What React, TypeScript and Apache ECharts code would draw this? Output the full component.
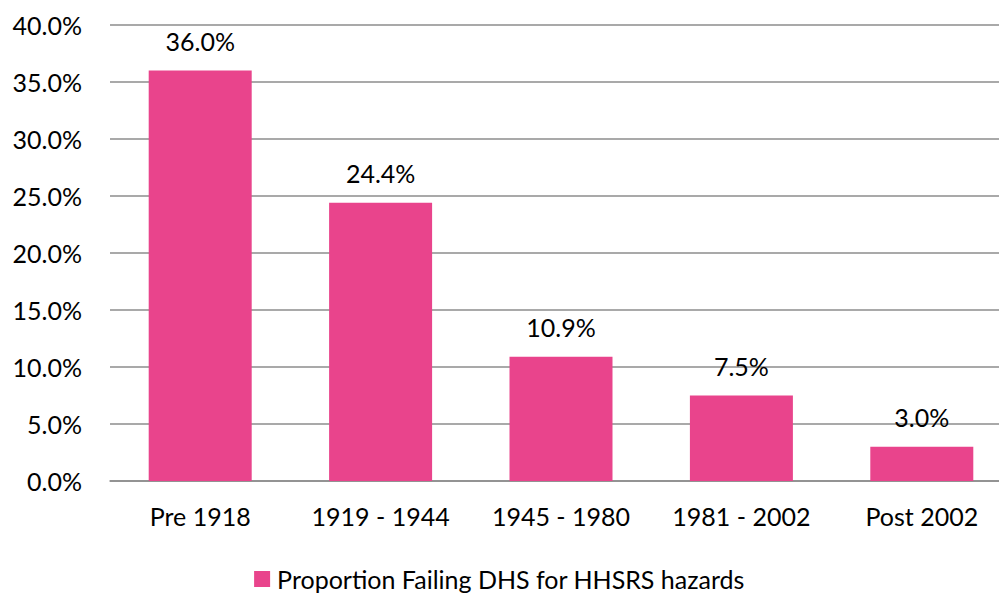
import React, { useEffect, useRef } from "react";
import * as echarts from "echarts";

const categories = ["Pre 1918", "1919 - 1944", "1945 - 1980", "1981 - 2002", "Post 2002"];
const values = [36.0, 24.4, 10.9, 7.5, 3.0];
const seriesName = "Proportion Failing DHS for HHSRS hazards";

const FONT = "Lato";

export default function App() {
  const ref = useRef<HTMLDivElement>(null);
  useEffect(() => {
    if (!ref.current) return;
    const chart = echarts.init(ref.current, undefined, { renderer: "svg" });
    chart.setOption({
      animation: false,
      backgroundColor: "#ffffff",
      textStyle: { fontFamily: FONT },
      grid: {
        left: 110,
        right: -13,
        top: 25,
        bottom: 113,
        containLabel: false,
        outerBoundsMode: "none",
      },
      legend: {
        show: true,
        top: 565,
        left: "center",
        padding: 0,
        icon: "rect",
        itemWidth: 16,
        itemHeight: 16,
        itemGap: 10,
        textStyle: { fontFamily: FONT, fontSize: 25, lineHeight: 28, color: "#000000", padding: [0, 0, 0, 2] },
        data: [seriesName],
      },
      xAxis: {
        type: "category",
        data: categories,
        axisLine: { show: true, lineStyle: { color: "#8c8c8c", width: 1.5 } },
        axisTick: { show: false },
        axisLabel: { fontFamily: FONT, fontSize: 25, color: "#000000", margin: 22, interval: 0 },
      },
      yAxis: {
        type: "value",
        min: 0,
        max: 40,
        interval: 5,
        axisLine: { show: false },
        axisTick: { show: false },
        splitLine: { show: true, lineStyle: { color: "#8c8c8c", width: 1.5 } },
        axisLabel: {
          fontFamily: FONT,
          fontSize: 25,
          color: "#000000",
          margin: 28,
          formatter: (v: number) => v.toFixed(1) + "%",
        },
      },
      series: [
        {
          name: seriesName,
          type: "bar",
          data: values,
          barWidth: 103,
          itemStyle: { color: "#E9448C" },
          label: {
            show: true,
            position: "top",
            distance: 17,
            fontFamily: FONT,
            fontSize: 25,
            color: "#000000",
            formatter: (p: any) => Number(p.value).toFixed(1) + "%",
          },
        },
      ],
    });
    return () => chart.dispose();
  }, []);
  return (
    <div
      ref={ref}
      style={{ position: "fixed", left: 0, top: 0, width: 999, height: 594, background: "#fff" }}
    />
  );
}
